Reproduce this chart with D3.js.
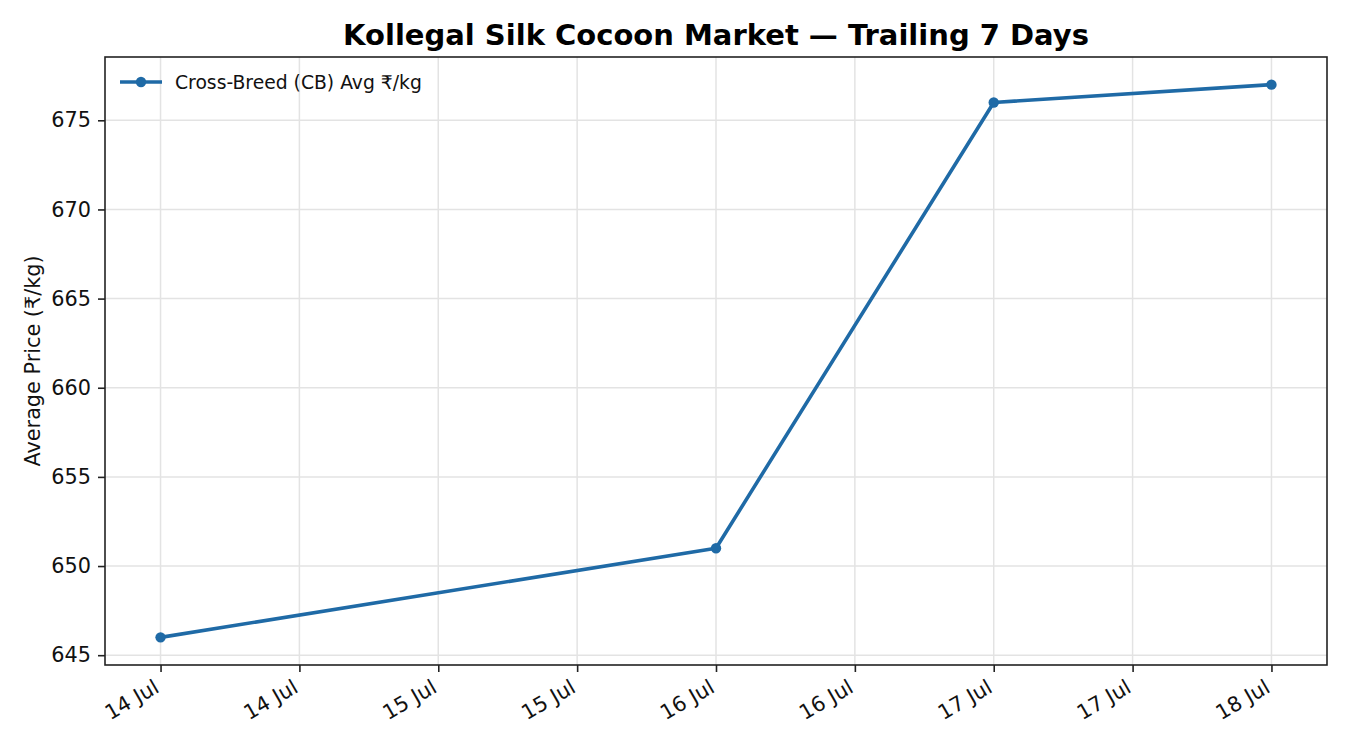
<!DOCTYPE html>
<html>
<head>
<meta charset="utf-8">
<script src="https://cdn.jsdelivr.net/npm/d3@7"></script>
<style>
  body { margin: 0; background: #fff; }
  svg, svg text { font-family: "DejaVu Sans", sans-serif; }
</style>
</head>
<body>
<div id="chart"></div>
<script>
// Data
const dates = ["2025-07-14", "2025-07-16", "2025-07-17", "2025-07-18"];
const prices = [646, 651, 676, 677];
const yTicks = [645, 650, 655, 660, 665, 670, 675];
const seriesName = "Cross-Breed (CB) Avg ₹/kg";

const W = 1350, H = 750;
const margin = { top: 57, right: 23, bottom: 85, left: 105 };
const width = W - margin.left - margin.right;
const height = H - margin.top - margin.bottom;
const lineColor = "#1f6aa6";
const font = "DejaVu Sans, sans-serif";

const parse = d3.utcParse("%Y-%m-%d");
const data = dates.map((d, i) => ({ date: parse(d), value: prices[i] }));

const svg = d3.select("#chart").append("svg")
    .attr("width", W)
    .attr("height", H);

const g = svg.append("g")
    .attr("transform", `translate(${margin.left},${margin.top})`);

// Scales (5% padding like matplotlib)
const t0 = data[0].date.getTime(), t1 = data[data.length - 1].date.getTime();
const tPad = (t1 - t0) * 0.05;
const x = d3.scaleUtc()
    .domain([new Date(t0 - tPad), new Date(t1 + tPad)])
    .range([0, width]);

const vMin = d3.min(prices), vMax = d3.max(prices);
const vPad = (vMax - vMin) * 0.05;
const y = d3.scaleLinear()
    .domain([vMin - vPad, vMax + vPad])
    .range([height, 0]);

const xTicks = x.ticks(d3.utcHour.every(12));
const fmt = d3.utcFormat("%-d %b");

// Grid
g.append("g").selectAll("line")
    .data(xTicks)
    .join("line")
    .attr("x1", d => x(d)).attr("x2", d => x(d))
    .attr("y1", 0).attr("y2", height)
    .attr("stroke", "#e3e3e3").attr("stroke-width", 1.5);

g.append("g").selectAll("line")
    .data(yTicks)
    .join("line")
    .attr("x1", 0).attr("x2", width)
    .attr("y1", d => y(d)).attr("y2", d => y(d))
    .attr("stroke", "#e3e3e3").attr("stroke-width", 1.5);

// Axes
const xAxis = g.append("g")
    .attr("transform", `translate(0,${height})`)
    .call(d3.axisBottom(x).tickValues(xTicks).tickFormat(fmt).tickSize(7).tickPadding(5));
xAxis.attr("font-family", font);
xAxis.select(".domain").remove();
xAxis.selectAll(".tick line").attr("stroke", "#222").attr("stroke-width", 1.6);
xAxis.selectAll(".tick text")
    .attr("font-size", 20.8)
    .attr("fill", "#111")
    .attr("text-anchor", "end")
    .attr("dy", "0.72em")
    .attr("transform", "translate(-14,3) rotate(-30)");

const yAxis = g.append("g")
    .call(d3.axisLeft(y).tickValues(yTicks).tickFormat(d3.format("d")).tickSize(7).tickPadding(7));
yAxis.attr("font-family", font);
yAxis.select(".domain").remove();
yAxis.selectAll(".tick line").attr("stroke", "#222").attr("stroke-width", 1.6);
yAxis.selectAll(".tick text")
    .attr("font-size", 20.8)
    .attr("fill", "#111");

// Frame
g.append("rect")
    .attr("width", width).attr("height", height)
    .attr("fill", "none")
    .attr("stroke", "#222").attr("stroke-width", 1.6);

// Line + markers
const line = d3.line()
    .x(d => x(d.date))
    .y(d => y(d.value));

g.append("path")
    .datum(data)
    .attr("d", line)
    .attr("fill", "none")
    .attr("stroke", lineColor)
    .attr("stroke-width", 3.6)
    .attr("stroke-linejoin", "round");

g.selectAll("circle.pt")
    .data(data)
    .join("circle")
    .attr("class", "pt")
    .attr("cx", d => x(d.date))
    .attr("cy", d => y(d.value))
    .attr("r", 5.2)
    .attr("fill", lineColor);

// Legend
const leg = g.append("g").attr("transform", "translate(15,25)");
leg.append("line")
    .attr("x1", 0).attr("x2", 42)
    .attr("stroke", lineColor).attr("stroke-width", 3.6);
leg.append("circle")
    .attr("cx", 21).attr("r", 5.2).attr("fill", lineColor);
leg.append("text")
    .attr("x", 55).attr("dy", "0.35em")
    .attr("font-size", 18.75)
    .attr("fill", "#111")
    .text(seriesName);

// Title
svg.append("text")
    .attr("x", margin.left + width / 2)
    .attr("y", 45)
    .attr("text-anchor", "middle")
    .attr("font-size", 29)
    .attr("font-weight", "bold")
    .attr("fill", "#000")
    .text("Kollegal Silk Cocoon Market — Trailing 7 Days");

// Y label
svg.append("text")
    .attr("transform", `translate(40,${margin.top + height / 2}) rotate(-90)`)
    .attr("text-anchor", "middle")
    .attr("font-size", 20.8)
    .attr("fill", "#111")
    .text("Average Price (₹/kg)");
</script>
</body>
</html>
